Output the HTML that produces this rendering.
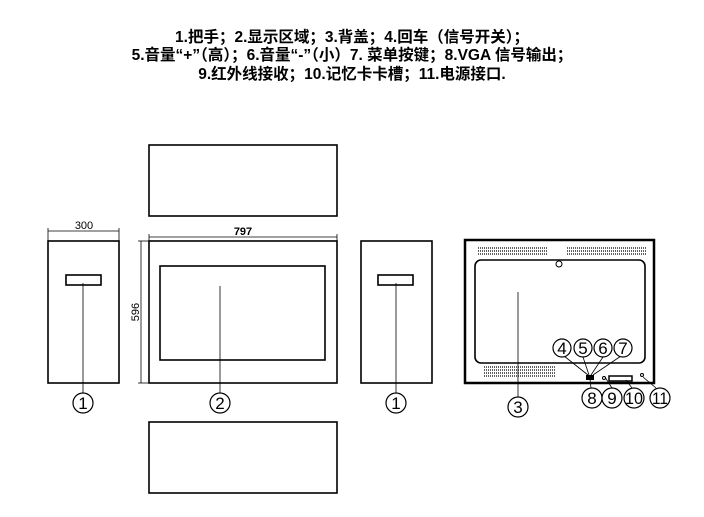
<!DOCTYPE html>
<html><head><meta charset="utf-8"><style>
body{margin:0;background:#fff;width:704px;height:517px;overflow:hidden}
.t{position:absolute;left:0;width:704px;text-align:center;font:bold 15.5px/18px "Liberation Sans","Noto Sans CJK SC",sans-serif;color:#000}
</style></head><body>
<div class="t" style="top:29px">1.把手；2.显示区域；3.背盖；4.回车（信号开关）；</div>
<div class="t" style="top:47px">5.音量“+”（高）；6.音量“-”（小）7. 菜单按键；8.VGA 信号输出；</div>
<div class="t" style="top:66px">9.红外线接收；10.记忆卡卡槽；11.电源接口.</div>
<svg width="704" height="517" style="position:absolute;left:0;top:0" font-family="Liberation Sans,sans-serif">
<g fill="none" stroke="#000" stroke-width="1.6">
<rect x="149" y="145" width="188" height="71"/>
<rect x="149" y="422" width="188" height="71"/>
<rect x="48" y="241" width="71" height="142"/>
<rect x="66" y="275" width="35" height="10"/>
<rect x="149" y="241" width="188" height="142"/>
<rect x="160" y="266" width="165" height="94"/>
<rect x="361" y="241" width="71" height="142"/>
<rect x="378" y="275" width="35" height="10"/>
<rect x="465" y="240" width="189" height="143" stroke-width="2.5"/>
<rect x="475" y="260" width="170" height="103" rx="6"/>
</g>
<g stroke="#000" stroke-width="0.8">
<line x1="48" y1="231" x2="119" y2="231"/><line x1="48" y1="228" x2="48" y2="241"/><line x1="119" y1="228" x2="119" y2="241"/>
<line x1="149" y1="237" x2="337" y2="237"/><line x1="149" y1="234" x2="149" y2="241"/><line x1="337" y1="234" x2="337" y2="241"/>
<line x1="141" y1="241" x2="141" y2="383"/><line x1="138" y1="241" x2="149" y2="241"/><line x1="138" y1="383" x2="149" y2="383"/>
<line x1="83" y1="283" x2="83" y2="393"/>
<line x1="220" y1="286" x2="220" y2="393"/>
<line x1="396" y1="283" x2="396" y2="393"/>
<line x1="518" y1="292" x2="518" y2="397"/>
<line x1="564" y1="356" x2="588" y2="375"/><line x1="583" y1="357" x2="589" y2="375"/>
<line x1="603" y1="357" x2="591" y2="375"/><line x1="621" y1="356" x2="593" y2="375"/>
<line x1="590" y1="379" x2="591" y2="388"/>
<line x1="605" y1="377" x2="612" y2="388"/>
<line x1="626" y1="380" x2="632" y2="388"/>
<line x1="643" y1="377" x2="656" y2="388"/>
</g>
<g stroke="#000" stroke-width="1.2" stroke-dasharray="1 1">
<line x1="478" y1="248" x2="548" y2="248"/><line x1="478" y1="251" x2="548" y2="251"/><line x1="478" y1="254" x2="548" y2="254"/>
<line x1="567" y1="248" x2="646" y2="248"/><line x1="567" y1="251" x2="646" y2="251"/><line x1="567" y1="254" x2="646" y2="254"/>
<line x1="484" y1="367" x2="555" y2="367"/><line x1="484" y1="370" x2="555" y2="370"/><line x1="484" y1="373" x2="555" y2="373"/><line x1="484" y1="376" x2="555" y2="376"/>
</g>
<rect x="586" y="375" width="8" height="5" fill="#000"/>
<rect x="609" y="376" width="23" height="5" fill="none" stroke="#000" stroke-width="1.5"/>
<circle cx="559" cy="264" r="3" fill="none" stroke="#000"/>
<circle cx="604" cy="378" r="1.5" fill="none" stroke="#000"/>
<circle cx="642" cy="375" r="1.5" fill="none" stroke="#000"/>
<g font-size="11" text-anchor="middle">
<text x="84" y="229">300</text>
<text x="243" y="235" font-weight="bold">797</text>
<text x="139" y="312" transform="rotate(-90 139 312)">596</text>
</g>
<g fill="#fff" stroke="#000" stroke-width="1.2">
<circle cx="83" cy="403" r="10"/><circle cx="220" cy="403" r="10"/><circle cx="396" cy="403" r="10"/><circle cx="518" cy="407" r="10"/>
<circle cx="562" cy="348" r="9"/><circle cx="583" cy="348" r="9"/><circle cx="603" cy="348" r="9"/><circle cx="623" cy="348" r="9"/>
<circle cx="592" cy="398" r="10"/><circle cx="612" cy="398" r="10"/><circle cx="634" cy="398" r="10"/><circle cx="660" cy="398" r="10"/>
</g>
<g font-size="17" text-anchor="middle">
<text x="83" y="409">1</text><text x="220" y="409">2</text><text x="396" y="409">1</text><text x="518" y="413">3</text>
<text x="562" y="354">4</text><text x="583" y="354">5</text><text x="603" y="354">6</text><text x="623" y="354">7</text>
<text x="592" y="404">8</text><text x="612" y="404">9</text><text x="634" y="404" textLength="18" lengthAdjust="spacingAndGlyphs">10</text><text x="660" y="404" textLength="16" lengthAdjust="spacingAndGlyphs">11</text>
</g>
</svg>
</body></html>
